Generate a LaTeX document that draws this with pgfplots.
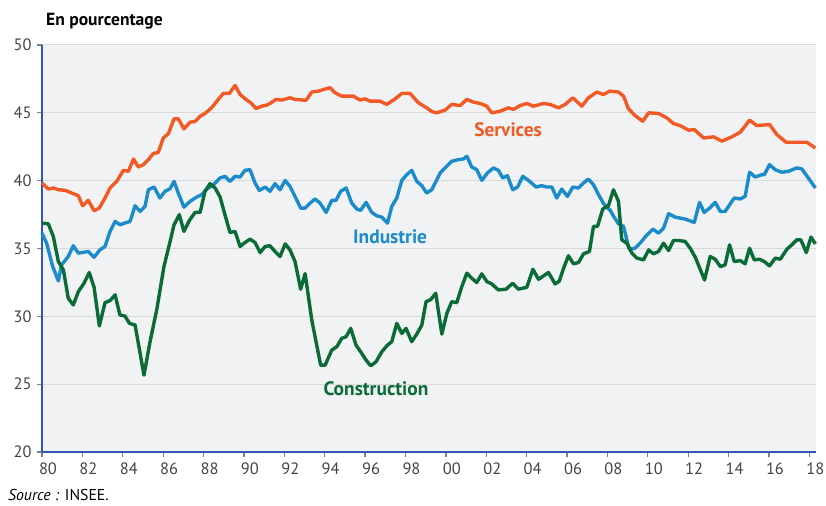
\documentclass[border=0pt]{standalone}
\usepackage{pgfplots}
\pgfplotsset{compat=1.18}
\usepackage{fontspec}
\setmainfont{PT Sans}
\definecolor{servcol}{HTML}{F15A24}
\definecolor{indcol}{HTML}{1B8BC9}
\definecolor{constcol}{HTML}{0B6B36}
\definecolor{axblue}{HTML}{3355BB}
\definecolor{bggray}{HTML}{F1F2F4}
\definecolor{ticklab}{HTML}{444444}
\begin{document}
\begin{tikzpicture}
\path[use as bounding box] (-42bp,-54bp) rectangle (784bp,452bp);
\begin{axis}[
  at={(0,0)}, anchor=south west,
  scale only axis, width=774bp, height=407bp,
  xmin=1980, xmax=2018.33, ymin=20, ymax=50,
  axis x line*=bottom, axis y line*=left,
  axis line style={color=axblue, line width=1.3bp},
  axis background/.style={fill=bggray},
  xtick={1980,1982,...,2018},
  xticklabels={80,82,84,86,88,90,92,94,96,98,00,02,04,06,08,10,12,14,16,18},
  ytick={20,25,30,35,40,45,50},
  ymajorgrids, grid style={color=black!15, line width=1bp},
  tick align=outside, major tick length=5bp,
  tick style={color=gray, line width=1.3bp},
  /pgf/number format/assume math mode=true,
  ticklabel style={font=\fontsize{16.5}{19}\selectfont, text=ticklab},
  xticklabel style={xshift=6bp, yshift=-2bp},
  yticklabel style={xshift=-2bp},
  clip=false,
  every axis plot/.append style={line width=3.4bp, line join=round, mark=none},
]
\addplot[servcol] coordinates {
(1980.00,39.83)(1980.31,39.38)(1980.56,39.46)(1980.81,39.33)(1981.14,39.29)(1981.47,39.09)(1981.80,38.89)(1982.01,38.15)(1982.29,38.55)(1982.58,37.78)(1982.84,37.98)(1983.12,38.72)(1983.37,39.46)(1983.70,39.95)(1984.03,40.76)(1984.28,40.69)(1984.53,41.60)(1984.77,41.01)(1985.02,41.18)(1985.27,41.55)(1985.51,42.00)(1985.76,42.09)(1986.01,43.15)(1986.26,43.47)(1986.54,44.56)(1986.75,44.56)(1987.03,43.82)(1987.33,44.31)(1987.58,44.36)(1987.83,44.75)(1988.07,44.95)(1988.40,45.37)(1988.73,45.99)(1988.98,46.43)(1989.28,46.43)(1989.56,47.02)(1989.81,46.35)(1990.14,45.94)(1990.34,45.74)(1990.60,45.32)(1990.88,45.49)(1991.13,45.57)(1991.29,45.69)(1991.59,45.99)(1991.87,45.94)(1992.28,46.11)(1992.53,45.99)(1992.94,45.94)(1993.08,45.94)(1993.36,46.53)(1993.69,46.60)(1993.94,46.72)(1994.27,46.85)(1994.51,46.48)(1994.84,46.23)(1995.42,46.23)(1995.75,45.94)(1996.00,46.03)(1996.25,45.86)(1996.74,45.86)(1997.07,45.62)(1997.49,46.03)(1997.82,46.43)(1998.23,46.43)(1998.64,45.74)(1999.05,45.37)(1999.30,45.10)(1999.55,45.00)(1999.96,45.20)(2000.29,45.62)(2000.71,45.54)(2001.04,45.99)(2001.37,45.79)(2001.70,45.69)(2002.03,45.49)(2002.27,45.00)(2002.69,45.12)(2003.10,45.37)(2003.35,45.25)(2003.68,45.54)(2004.01,45.69)(2004.34,45.49)(2004.83,45.69)(2005.16,45.62)(2005.58,45.37)(2005.91,45.62)(2006.29,46.11)(2006.73,45.49)(2007.06,46.11)(2007.48,46.53)(2007.81,46.35)(2008.10,46.60)(2008.55,46.53)(2008.80,46.23)(2009.04,45.30)(2009.37,44.80)(2009.75,44.38)(2010.04,45.00)(2010.53,44.95)(2010.94,44.63)(2011.27,44.21)(2011.60,44.06)(2012.02,43.72)(2012.30,43.77)(2012.76,43.15)(2013.26,43.23)(2013.67,42.91)(2014.16,43.23)(2014.58,43.57)(2015.04,44.46)(2015.40,44.06)(2016.03,44.14)(2016.39,43.40)(2016.85,42.83)(2017.30,42.83)(2017.88,42.83)(2018.30,42.41)
};
\addplot[indcol] coordinates {
(1980.00,36.13)(1980.23,35.39)(1980.53,33.67)(1980.81,32.61)(1980.97,33.79)(1981.30,34.41)(1981.55,35.20)(1981.80,34.66)(1982.29,34.78)(1982.58,34.36)(1982.87,34.90)(1983.12,35.15)(1983.37,36.26)(1983.62,36.99)(1983.86,36.75)(1984.19,36.92)(1984.36,36.99)(1984.61,38.15)(1984.86,37.73)(1985.10,38.10)(1985.27,39.33)(1985.55,39.53)(1985.84,38.72)(1986.09,39.21)(1986.34,39.40)(1986.54,39.95)(1986.75,39.09)(1987.03,38.05)(1987.33,38.47)(1987.66,38.79)(1987.91,38.97)(1988.16,39.38)(1988.49,39.70)(1988.82,40.20)(1989.06,40.32)(1989.31,39.95)(1989.56,40.32)(1989.81,40.27)(1990.05,40.76)(1990.30,40.81)(1990.55,39.83)(1990.76,39.28)(1991.05,39.53)(1991.29,39.21)(1991.54,39.78)(1991.79,39.33)(1992.04,40.02)(1992.28,39.58)(1992.53,38.84)(1992.81,37.98)(1993.03,37.98)(1993.28,38.35)(1993.52,38.65)(1993.77,38.35)(1994.07,37.66)(1994.35,38.55)(1994.56,38.55)(1994.79,39.21)(1995.06,39.46)(1995.34,38.35)(1995.59,37.91)(1995.78,37.81)(1996.05,38.40)(1996.33,37.66)(1996.58,37.41)(1996.83,37.31)(1997.11,36.87)(1997.32,38.10)(1997.57,38.72)(1997.82,40.02)(1998.06,40.44)(1998.31,40.76)(1998.56,39.95)(1998.81,39.63)(1999.05,39.09)(1999.30,39.33)(1999.47,39.83)(1999.72,40.57)(1999.96,40.94)(2000.29,41.43)(2000.62,41.55)(2000.87,41.60)(2001.04,41.80)(2001.28,41.01)(2001.53,40.81)(2001.78,40.02)(2002.06,40.57)(2002.36,40.94)(2002.60,40.76)(2002.82,40.20)(2003.05,40.37)(2003.31,39.33)(2003.55,39.53)(2003.81,40.32)(2004.09,40.02)(2004.47,39.53)(2004.75,39.63)(2005.00,39.53)(2005.25,39.53)(2005.49,38.72)(2005.74,39.38)(2006.02,38.84)(2006.29,39.53)(2006.57,39.46)(2006.82,39.83)(2007.06,40.12)(2007.31,39.70)(2007.56,38.97)(2007.81,38.30)(2008.14,37.81)(2008.33,37.31)(2008.55,36.82)(2008.80,36.63)(2008.96,35.64)(2009.08,34.95)(2009.37,35.02)(2009.62,35.39)(2009.92,35.94)(2010.25,36.43)(2010.53,36.13)(2010.78,36.50)(2011.03,37.56)(2011.36,37.31)(2011.85,37.17)(2012.30,36.92)(2012.56,38.40)(2012.79,37.66)(2013.06,37.98)(2013.34,38.40)(2013.59,37.73)(2013.83,37.73)(2014.05,38.22)(2014.28,38.72)(2014.58,38.65)(2014.82,38.84)(2015.04,40.62)(2015.32,40.27)(2015.65,40.44)(2015.77,40.44)(2016.03,41.18)(2016.31,40.81)(2016.64,40.62)(2016.97,40.69)(2017.38,40.94)(2017.63,40.86)(2018.01,40.07)(2018.30,39.46)
};
\addplot[constcol] coordinates {
(1980.00,36.87)(1980.31,36.82)(1980.56,35.89)(1980.81,34.04)(1981.06,33.42)(1981.30,31.33)(1981.55,30.84)(1981.80,31.82)(1982.08,32.44)(1982.34,33.23)(1982.58,32.14)(1982.84,29.29)(1983.12,31.01)(1983.37,31.16)(1983.62,31.58)(1983.86,30.10)(1984.11,30.02)(1984.33,29.48)(1984.61,29.36)(1985.05,25.67)(1985.35,28.13)(1985.68,30.47)(1986.04,33.67)(1986.34,35.50)(1986.54,36.75)(1986.80,37.49)(1987.03,36.26)(1987.30,37.07)(1987.58,37.66)(1987.83,37.66)(1988.07,39.21)(1988.32,39.78)(1988.57,39.46)(1988.82,38.79)(1989.06,37.49)(1989.31,36.18)(1989.56,36.26)(1989.81,35.15)(1990.05,35.44)(1990.30,35.69)(1990.55,35.44)(1990.80,34.70)(1991.05,35.15)(1991.29,35.20)(1991.54,34.78)(1991.79,34.41)(1992.04,35.34)(1992.28,34.90)(1992.53,34.04)(1992.81,32.00)(1993.03,33.15)(1993.36,29.73)(1993.80,26.40)(1994.02,26.40)(1994.35,27.51)(1994.60,27.76)(1994.84,28.37)(1995.06,28.50)(1995.29,29.11)(1995.55,27.88)(1995.78,27.39)(1996.05,26.77)(1996.28,26.35)(1996.54,26.65)(1996.83,27.39)(1997.11,27.88)(1997.32,28.13)(1997.57,29.48)(1997.82,28.74)(1998.03,29.11)(1998.31,28.13)(1998.56,28.69)(1998.81,29.36)(1999.02,31.08)(1999.25,31.23)(1999.50,31.70)(1999.80,28.69)(2000.05,30.22)(2000.29,31.08)(2000.54,31.01)(2000.79,32.19)(2001.04,33.18)(2001.28,32.81)(2001.53,32.49)(2001.78,33.13)(2002.03,32.56)(2002.27,32.39)(2002.60,31.95)(2002.98,32.00)(2003.31,32.44)(2003.59,32.00)(2004.01,32.14)(2004.31,33.47)(2004.59,32.73)(2005.08,33.23)(2005.41,32.39)(2005.62,32.60)(2005.83,33.55)(2006.07,34.46)(2006.32,33.87)(2006.57,33.97)(2006.82,34.61)(2007.11,34.78)(2007.31,36.63)(2007.51,36.63)(2007.77,37.91)(2008.05,38.15)(2008.30,39.33)(2008.55,38.47)(2008.71,35.64)(2008.96,35.39)(2009.21,34.66)(2009.46,34.29)(2009.79,34.16)(2010.04,34.90)(2010.28,34.61)(2010.53,34.78)(2010.78,35.39)(2011.03,34.85)(2011.27,35.59)(2011.52,35.59)(2011.85,35.52)(2012.10,35.02)(2012.35,34.36)(2012.81,32.68)(2013.09,34.41)(2013.34,34.21)(2013.59,33.67)(2013.83,33.79)(2014.05,35.27)(2014.28,34.04)(2014.58,34.11)(2014.82,33.87)(2015.04,35.02)(2015.27,34.16)(2015.53,34.21)(2015.77,34.04)(2016.03,33.72)(2016.31,34.29)(2016.56,34.21)(2016.89,34.95)(2017.13,35.27)(2017.38,35.64)(2017.58,35.64)(2017.85,34.70)(2018.08,35.84)(2018.30,35.34)
};
\node[text=servcol, font=\bfseries\fontsize{19.5}{23}\selectfont] at (axis cs:2003.08,43.75) {Services};
\node[text=indcol, font=\bfseries\fontsize{19.5}{23}\selectfont] at (axis cs:1997.24,35.88) {Industrie};
\node[text=constcol, font=\bfseries\fontsize{19.5}{23}\selectfont] at (axis cs:1996.54,24.63) {Construction};
\end{axis}
\node[anchor=west, inner sep=0pt, font=\bfseries\fontsize{17.6}{20}\selectfont] at (4bp,431bp) {En pourcentage};
\node[anchor=west, inner sep=0pt, font=\fontsize{15.8}{19}\selectfont] at (-34bp,-43bp) {\textit{Source :} INSEE.};
\end{tikzpicture}
\end{document}
